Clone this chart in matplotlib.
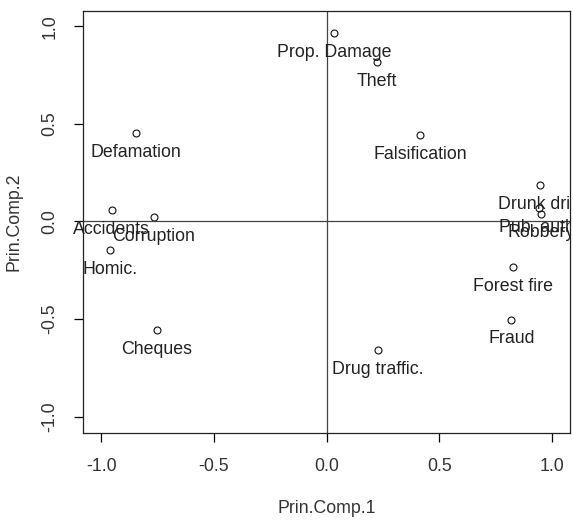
import matplotlib
matplotlib.use('Agg')
import matplotlib.pyplot as plt
from matplotlib.patches import Rectangle

plt.rcParams['font.family'] = ['Liberation Sans', 'DejaVu Sans']

# principal component scores
labels = ['Prop. Damage', 'Theft', 'Defamation', 'Falsification', 'Drunk driv.',
          'Pub. auth.', 'Robbery', 'Accidents', 'Corruption', 'Homic.',
          'Forest fire', 'Fraud', 'Cheques', 'Drug traffic.']
comp1 = [0.033, 0.223, -0.846, 0.415, 0.947, 0.943, 0.950, -0.953, -0.766, -0.962,
         0.828, 0.819, -0.753, 0.228]
comp2 = [0.966, 0.817, 0.454, 0.444, 0.188, 0.066, 0.040, 0.060, 0.024, -0.145,
         -0.232, -0.503, -0.555, -0.657]
ticks = [-1.0, -0.5, 0.0, 0.5, 1.0]

fig = plt.figure(figsize=(5.73, 5.20), dpi=100)
ax = fig.add_axes([0.145, 0.167, 0.850, 0.812])

txt_color = '#222222'
ax.plot(comp1, comp2, 'o', mfc='none', mec='#111111', ms=5, mew=0.8)
ax.axhline(0, color='#444444', lw=0.9)
ax.axvline(0, color='#444444', lw=0.9)

# R clips text at the right edge of the plot but not at the left here
clip = Rectangle((0, 0), 0.995, 1, transform=fig.transFigure)
for lab, x, y in zip(labels, comp1, comp2):
    t = ax.annotate(lab, (x, y), xytext=(0, -14), textcoords='offset points',
                    ha='center', va='center', fontsize=12.8, color=txt_color)
    t.set_clip_path(clip)

ax.set_xlim(-1.08, 1.08)
ax.set_ylim(-1.085, 1.078)
ax.set_xticks(ticks)
ax.set_yticks(ticks)
ax.set_xticklabels(['%.1f' % v for v in ticks])
ax.set_yticklabels(['%.1f' % v for v in ticks])
ax.tick_params(length=6.8, width=0.9, pad=11, labelsize=12.8, labelcolor='#333333')
ax.tick_params(axis='y', labelrotation=90)
for t in ax.get_yticklabels():
    t.set_va('center')

for s in ax.spines.values():
    s.set_color('#222222')
    s.set_linewidth(0.9)

ax.set_xlabel('Prin.Comp.1', fontsize=12.8, color='#333333')
ax.set_ylabel('Prin.Comp.2', fontsize=12.8, color='#333333')
ax.xaxis.set_label_coords(0.5, -0.178)
ax.xaxis.label.set_va('center')
ax.yaxis.set_label_coords(-0.142, 0.5)
ax.yaxis.label.set_va('center')

plt.savefig('out.png', dpi=100)
